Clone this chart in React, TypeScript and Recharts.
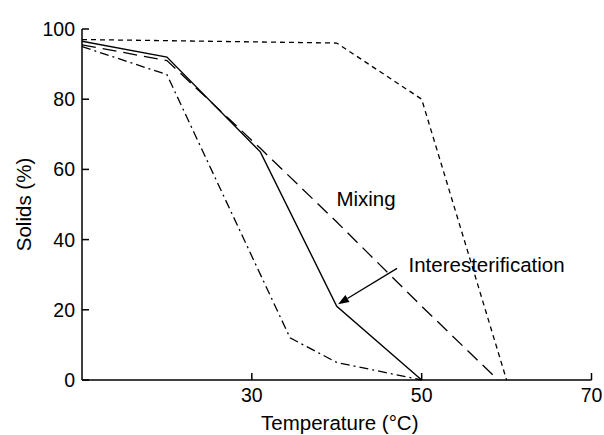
import React from 'react';
import { LineChart, Line, XAxis, YAxis, ReferenceLine, ReferenceDot } from 'recharts';

const interesterT = [10, 20, 31, 40, 50];
const interesterS = [96.5, 92, 65, 21, 0];
const mixingT = [10, 20, 31, 40, 50, 59];
const mixingS = [95.5, 91, 66, 45, 21, 0];
const hardT = [10, 40, 50, 60];
const hardS = [97, 96, 80, 0];
const softT = [10, 20, 34.5, 40, 50];
const softS = [95, 87, 12, 5, 0];

const xTicks = [30, 50, 70];
const yTicks = [0, 20, 40, 60, 80, 100];

const toRows = (t: number[], s: number[]) => t.map((v, i) => ({ t: v, s: s[i] }));

const FONT = '"Liberation Sans", Arial, Helvetica, sans-serif';

const ArrowShape = (props: any) => {
  const { x1, y1, x2, y2 } = props;
  if ([x1, y1, x2, y2].some((v) => typeof v !== 'number')) return null;
  const dx = x2 - x1;
  const dy = y2 - y1;
  const len = Math.sqrt(dx * dx + dy * dy);
  const ux = dx / len;
  const uy = dy / len;
  const hl = 11;
  const hw = 4;
  const bx = x2 - ux * hl;
  const by = y2 - uy * hl;
  const pts = `${x2},${y2} ${bx - uy * hw},${by + ux * hw} ${bx + uy * hw},${by - ux * hw}`;
  return (
    <g>
      <line x1={x1} y1={y1} x2={bx} y2={by} stroke="#000" strokeWidth={1.3} />
      <polygon points={pts} fill="#000" />
    </g>
  );
};

const XLabel = (props: any) => {
  const vb = props.viewBox || {};
  return (
    <text x={vb.x + vb.width / 2 + 3} y={430} textAnchor="middle" fontSize={20.5} fontFamily={FONT} fill="#000">
      Temperature (°C)
    </text>
  );
};

const YLabel = (props: any) => {
  const vb = props.viewBox || {};
  const cy = vb.y + vb.height / 2;
  return (
    <text transform={`translate(24,${cy}) rotate(-90)`} textAnchor="middle" dy="0.36em" fontSize={20.5} fontFamily={FONT} fill="#000">
      Solids (%)
    </text>
  );
};

export default function App() {
  const tickStyle = { fontSize: 19.5, fontFamily: FONT, fill: '#000' };
  return (
    <div style={{ position: 'absolute', left: 0, top: 0, width: 604, height: 435, background: '#fff' }}>
      <LineChart width={604} height={435} margin={{ top: 29, right: 12.5, left: 0, bottom: 0 }}>
        <XAxis
          type="number"
          dataKey="t"
          domain={[10, 70]}
          ticks={xTicks}
          allowDataOverflow
          height={55}
          tickSize={-7}
          tickMargin={15}
          tick={tickStyle}
          axisLine={{ stroke: '#000', strokeWidth: 1.5 }}
          tickLine={{ stroke: '#000', strokeWidth: 1.5 }}
          label={<XLabel />}
        />
        <YAxis
          type="number"
          domain={[0, 100]}
          ticks={yTicks}
          width={82}
          tickSize={-7}
          tickMargin={14}
          tick={tickStyle}
          axisLine={{ stroke: '#000', strokeWidth: 1.5 }}
          tickLine={{ stroke: '#000', strokeWidth: 1.5 }}
          label={<YLabel />}
        />
        <Line data={toRows(hardT, hardS)} dataKey="s" stroke="#000" strokeWidth={1.3} strokeDasharray="5 4" dot={false} isAnimationActive={false} />
        <Line data={toRows(mixingT, mixingS)} dataKey="s" stroke="#000" strokeWidth={1.3} strokeDasharray="14 7" dot={false} isAnimationActive={false} />
        <Line data={toRows(softT, softS)} dataKey="s" stroke="#000" strokeWidth={1.3} strokeDasharray="9 4 2 4" dot={false} isAnimationActive={false} />
        <Line data={toRows(interesterT, interesterS)} dataKey="s" stroke="#000" strokeWidth={1.4} dot={false} isAnimationActive={false} />
        <ReferenceLine
          segment={[{ x: 47.1, y: 31.8 }, { x: 40.15, y: 21.6 }]}
          shape={ArrowShape}
          ifOverflow="visible"
        />
        <ReferenceDot
          x={43.45}
          y={51.6}
          r={0}
          fill="none"
          stroke="none"
          label={{ value: 'Mixing', position: 'center', fontSize: 20.5, fontFamily: FONT, fill: '#000' }}
        />
        <ReferenceDot
          x={57.64}
          y={32.9}
          r={0}
          fill="none"
          stroke="none"
          label={{ value: 'Interesterification', position: 'center', fontSize: 20.5, fontFamily: FONT, fill: '#000' }}
        />
      </LineChart>
    </div>
  );
}
